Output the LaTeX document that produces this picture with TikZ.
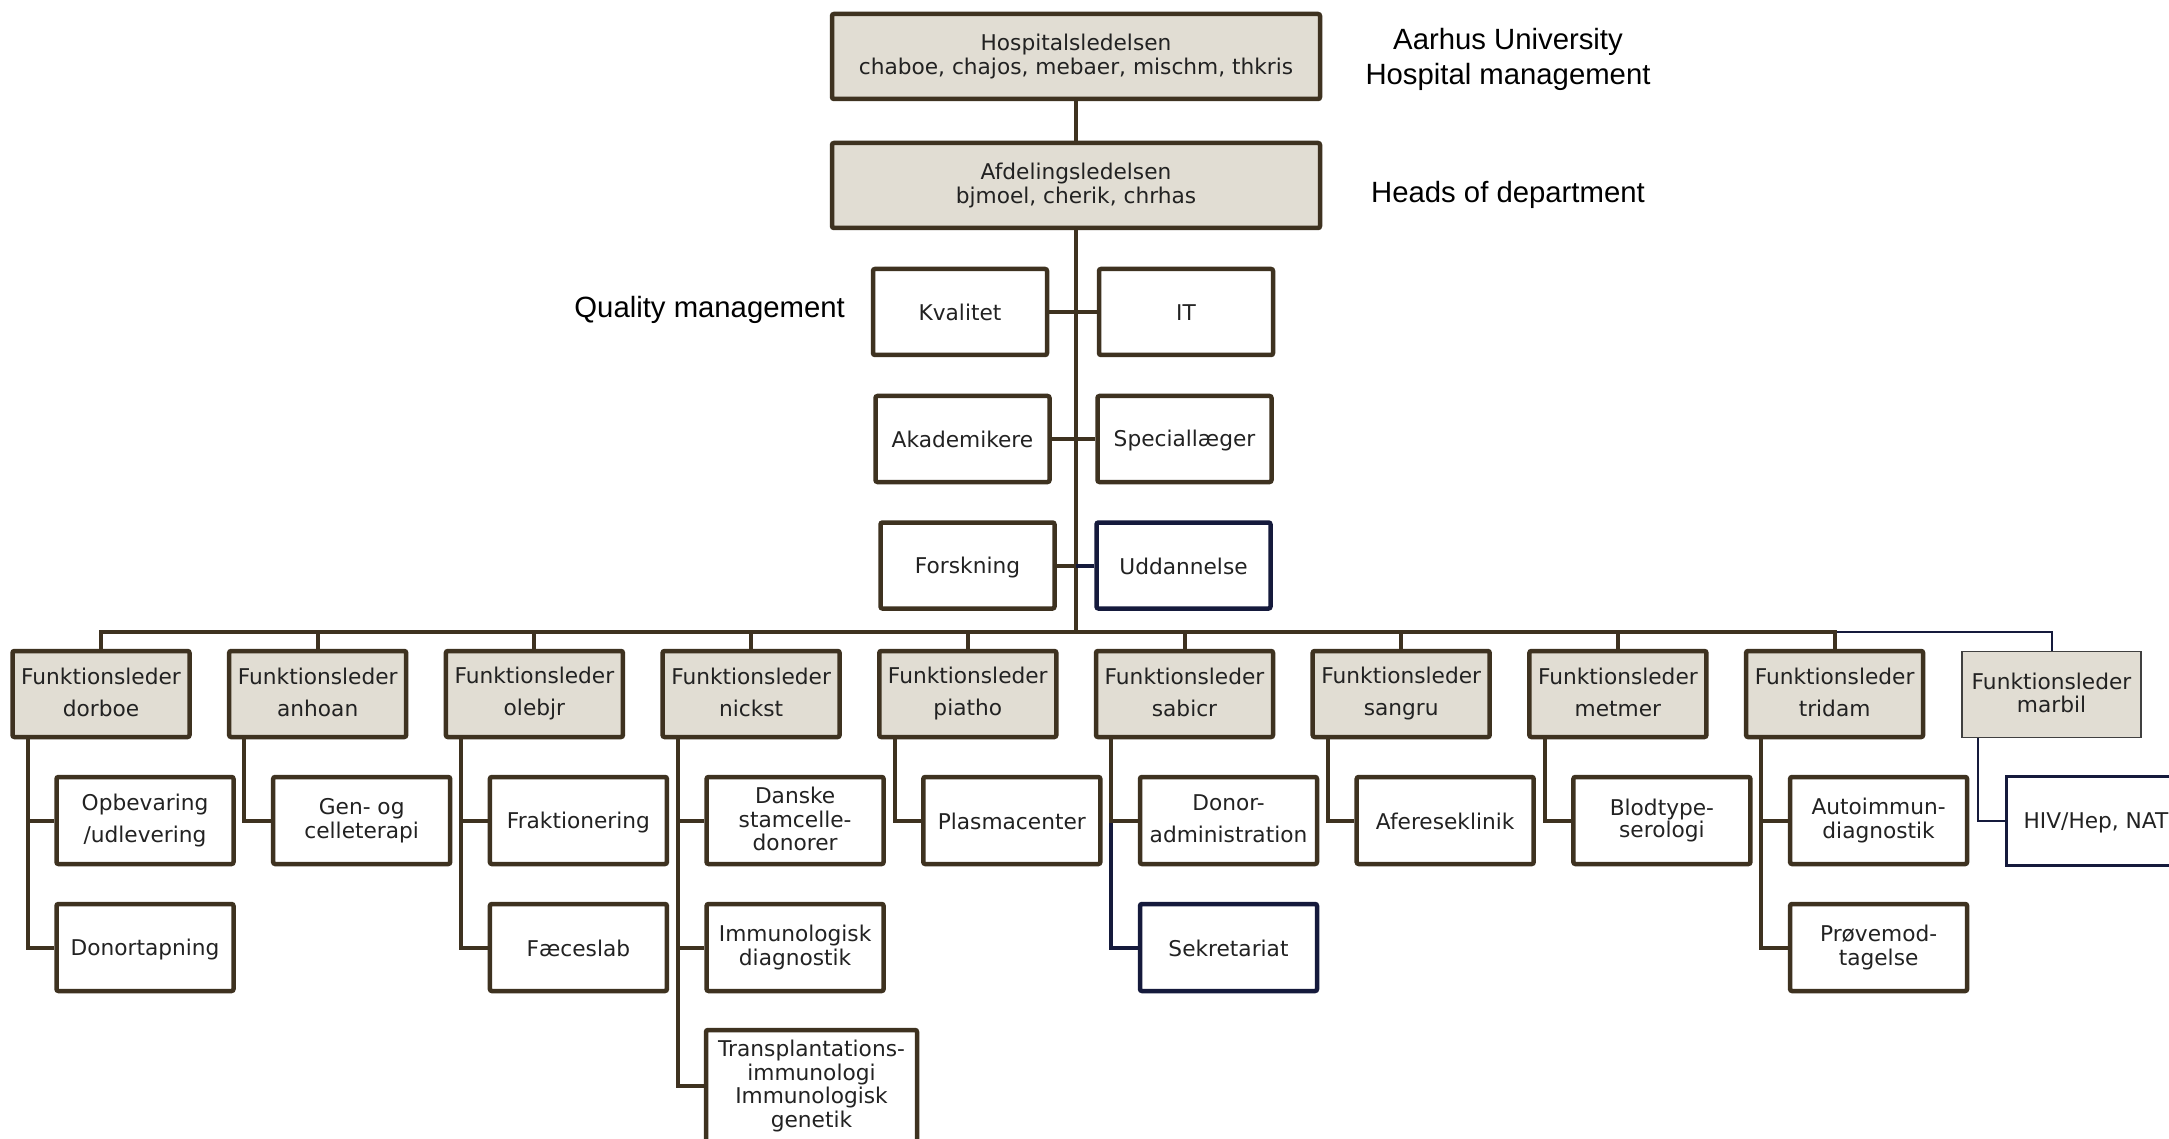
\documentclass[tikz,border=0pt]{standalone}
\usepackage{fontspec}
\newfontfamily\boxfont{DejaVu Sans}
\newfontfamily\notefont{Liberation Sans}
\usetikzlibrary{backgrounds}
\definecolor{brd}{HTML}{3E3220}
\definecolor{beige}{HTML}{E1DDD3}
\definecolor{navy}{HTML}{151A3C}
\definecolor{txt}{HTML}{222222}
\newcommand\tightfont{\boxfont\fontsize{21.7}{23.5}\selectfont}
\newcommand\loosefont{\boxfont\fontsize{21.7}{32}\selectfont}
\newcommand\notesize{\notefont\fontsize{29.3}{35}\selectfont}
\tikzset{
  tightstrut/.style={execute at begin node={\vrule width 0pt height 20pt depth 0pt},
    execute at end node={\vrule width 0pt height 0pt depth 3pt}},
  loosestrut/.style={font=\loosefont, execute at begin node={\vrule width 0pt height 24pt depth 0pt},
    execute at end node={\vrule width 0pt height 0pt depth 3pt}},
  box/.style={draw=brd, line width=4.5pt, rounded corners=2pt, text=txt,
    align=center, inner sep=0pt, font=\tightfont, fill=white, tightstrut},
  headbox/.style={box, fill=beige, minimum width=488, minimum height=85},
  staffbox/.style={box, minimum width=174, minimum height=86},
  leadbox/.style={box, fill=beige, minimum width=177, minimum height=86, loosestrut},
  unitbox/.style={box, minimum width=177, minimum height=87},
  conn/.style={draw=brd, line width=4pt},
  navyconn/.style={draw=navy, line width=4pt},
  thinconn/.style={draw=navy, line width=2pt},
  note/.style={font=\notesize, text=black, align=center, inner sep=0pt}
}
\begin{document}
\begin{tikzpicture}[x=1pt,y=-1pt]
\path[use as bounding box, clip] (0,0) rectangle (2169,1139);

% management
\node[headbox] (hosp) at (1076,56.5) {Hospitalsledelsen\\chaboe, chajos, mebaer, mischm, thkris};
\node[headbox] (afd) at (1076,185.5) {Afdelingsledelsen\\bjmoel, cherik, chrhas};

% staff functions beside the trunk
\node[staffbox] (kval)  at (960,312)     {Kvalitet};
\node[staffbox] (it)    at (1186,312)    {IT};
\node[staffbox] (akad)  at (962.5,439)   {Akademikere};
\node[staffbox] (spec)  at (1184.5,439)  {Speciallæger};
\node[staffbox] (forsk) at (967.5,565.5) {Forskning};
\node[staffbox, draw=navy] (udd) at (1183.5,565.5) {Uddannelse};

\coordinate (bus) at (1076,631.5);

% function leaders
\node[leadbox] (f1) at (101,694)    {Funktionsleder\\dorboe};
\node[leadbox] (f2) at (317.7,694)  {Funktionsleder\\anhoan};
\node[leadbox] (f3) at (534.4,694)  {Funktionsleder\\olebjr};
\node[leadbox] (f4) at (751.1,694)  {Funktionsleder\\nickst};
\node[leadbox] (f5) at (967.8,694)  {Funktionsleder\\piatho};
\node[leadbox] (f6) at (1184.5,694) {Funktionsleder\\sabicr};
\node[leadbox] (f7) at (1401.2,694) {Funktionsleder\\sangru};
\node[leadbox] (f8) at (1617.9,694) {Funktionsleder\\metmer};
\node[leadbox] (f9) at (1834.6,694) {Funktionsleder\\tridam};
\node[box, fill=beige, draw=black!75, line width=1.5pt, rounded corners=0pt,
      minimum width=179, minimum height=86] (f10) at (2051.5,694.5) {Funktionsleder\\marbil};

% units
\node[unitbox, loosestrut] (u11) at (145,820.5) {Opbevaring\\/udlevering};
\node[unitbox] (u12) at (145,947.5) {Donortapning};
\node[unitbox] (u21) at (361.7,820.5) {Gen- og\\celleterapi};
\node[unitbox] (u31) at (578.4,820.5) {Fraktionering};
\node[unitbox] (u32) at (578.4,947.5) {Fæceslab};
\node[unitbox] (u41) at (795.1,820.5) {Danske\\stamcelle-\\donorer};
\node[unitbox] (u42) at (795.1,947.5) {Immunologisk\\diagnostik};
\node[box, minimum width=211, minimum height=112] (u43) at (811.5,1086) {Transplantations-\\immunologi\\Immunologisk\\genetik};
\node[unitbox] (u51) at (1011.8,820.5) {Plasmacenter};
\node[unitbox, loosestrut] (u61) at (1228.5,820.5) {Donor-\\administration};
\node[unitbox, draw=navy] (u62) at (1228.5,947.5) {Sekretariat};
\node[unitbox] (u71) at (1445.2,820.5) {Afereseklinik};
\node[unitbox, font={\boxfont\fontsize{21.7}{22}\selectfont}] (u81) at (1661.9,820.5) {Blodtype-\\serologi};
\node[unitbox] (u91) at (1878.6,820.5) {Autoimmun-\\diagnostik};
\node[unitbox] (u92) at (1878.6,947.5) {Prøvemod-\\tagelse};
\node[unitbox, draw=navy, line width=2.5pt, rounded corners=0pt, minimum width=179, minimum height=89] (u101) at (2096,821) {HIV/Hep, NAT};

% annotations
\node[note] (n1) at (1508,41.5) {Aarhus University};
\node[note] (n2) at (1508,76.5) {Hospital management};
\node[note] (n3) at (1508,195) {Heads of department};
\node[note, anchor=east] (n4) at (845,310) {Quality management};

\begin{pgfonlayer}{background}
  \fill[white] (0,0) rectangle (2169,1139);
  % top of the hierarchy
  \draw[conn] (hosp.south) -- (afd.north);
  \draw[conn] (afd.south) -- (bus);
  \draw[navyconn] (udd.west) -- (udd.west -| bus);
  \draw[conn] (kval.east) -- (it.west);
  \draw[conn] (akad.east) -- (spec.west);
  \draw[conn] (forsk.east) -- (forsk.east -| bus);
  % bus to the function leaders
  \draw[thinconn] (f10.north) |- (f9.north |- bus);
  \foreach \f in {f1,f2,f3,f4,f5,f6,f7,f8,f9}
    \draw[conn] (\f.north) |- (bus);
  % leader to unit elbows
  \draw[conn] ([xshift=17.5pt]f1.south west) |- (u11.west);
  \draw[conn] ([xshift=17.5pt]f1.south west) |- (u12.west);
  \draw[conn] ([xshift=17.5pt]f2.south west) |- (u21.west);
  \draw[conn] ([xshift=17.5pt]f3.south west) |- (u31.west);
  \draw[conn] ([xshift=17.5pt]f3.south west) |- (u32.west);
  \draw[conn] ([xshift=17.5pt]f4.south west) |- (u41.west);
  \draw[conn] ([xshift=17.5pt]f4.south west) |- (u42.west);
  \draw[conn] ([xshift=17.5pt]f4.south west) |- (u43.west);
  \draw[conn] ([xshift=17.5pt]f5.south west) |- (u51.west);
  \draw[navyconn] ([xshift=17.5pt]f6.south west) |- (u62.west);
  \draw[conn] ([xshift=17.5pt]f6.south west) |- (u61.west);
  \draw[conn] ([xshift=17.5pt]f7.south west) |- (u71.west);
  \draw[conn] ([xshift=17.5pt]f8.south west) |- (u81.west);
  \draw[conn] ([xshift=17.5pt]f9.south west) |- (u91.west);
  \draw[conn] ([xshift=17.5pt]f9.south west) |- (u92.west);
  \draw[thinconn] ([xshift=17pt]f10.south west) |- (u101.west);
\end{pgfonlayer}
\end{tikzpicture}
\end{document}
